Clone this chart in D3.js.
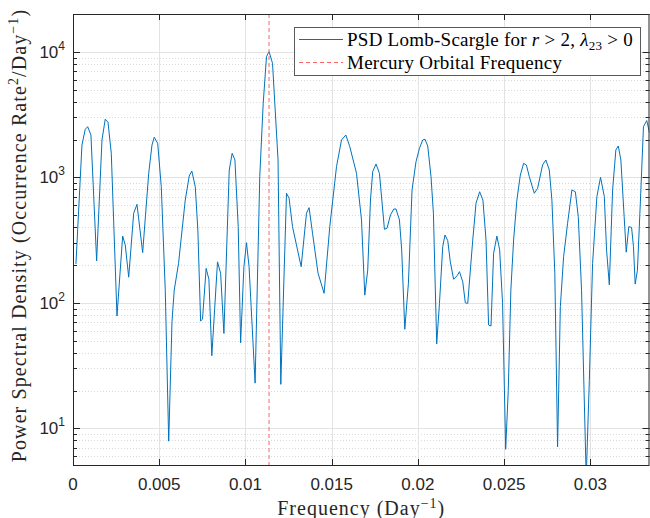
<!DOCTYPE html>
<html><head><meta charset="utf-8">
<script src="https://cdn.jsdelivr.net/npm/d3@7"></script>
<style>body{margin:0;background:#fff}svg{display:block}</style>
</head><body><svg id="c" width="650" height="518"></svg>
<script>
const freq = [0.00017,0.00052,0.00071,0.00085,0.00104,0.00137,0.00168,0.00187,0.00203,0.00222,
0.00255,0.00288,0.00303,0.00323,0.00352,0.00371,0.00404,0.00439,0.00458,0.00471,
0.00491,0.00512,0.00535,0.00555,0.00574,0.00587,0.00612,0.00651,0.00674,0.00689,
0.00709,0.00724,0.00740,0.00751,0.00772,0.00788,0.00805,0.00838,0.00856,0.00875,
0.00906,0.00923,0.00939,0.00958,0.00972,0.00991,0.01006,0.01021,0.01056,0.01083,
0.01103,0.01122,0.01137,0.01157,0.01189,0.01205,0.01238,0.01253,0.01273,0.01323,
0.01354,0.01369,0.01389,0.01421,0.01456,0.01489,0.01528,0.01557,0.01582,0.01605,
0.01644,0.01673,0.01692,0.01709,0.01725,0.01738,0.01757,0.01777,0.01806,0.01821,
0.01841,0.01860,0.01873,0.01893,0.01906,0.01924,0.01945,0.01966,0.01989,0.02009,
0.02028,0.02041,0.02057,0.02076,0.02090,0.02109,0.02125,0.02144,0.02157,0.02173,
0.02188,0.02207,0.02227,0.02241,0.02260,0.02275,0.02289,0.02318,0.02337,0.02358,
0.02377,0.02395,0.02410,0.02424,0.02439,0.02458,0.02474,0.02491,0.02509,0.02524,
0.02539,0.02555,0.02574,0.02594,0.02613,0.02629,0.02646,0.02675,0.02694,0.02723,
0.02742,0.02762,0.02777,0.02794,0.02810,0.02826,0.02845,0.02868,0.02893,0.02913,
0.02930,0.02949,0.02976,0.02994,0.03013,0.03038,0.03059,0.03081,0.03094,0.03110,
0.03129,0.03148,0.03162,0.03177,0.03196,0.03208,0.03223,0.03239,0.03250,0.03260,
0.03273,0.03293,0.03308,0.03327,0.03343];
const psd = [204,1808,2412,2530,2173,216,1982,2904,2742,1553,
78.5,340,289,160,517,609,251,1076,1808,2084,
1866,841,126,7.9,71,126,206,659,1024,1122,
841,380,71.6,74,188,154,37.9,212,172,57,
1143,1553,1374,404,48,194,301,194,22.9,1012,
3890,9160,10030,8090,1374,22.4,746,681,404,194,
517,573,358,172,119,404,1216,1982,2173,1754,
1076,457,115,182,659,1109,1277,1076,385,393,
501,559,559,457,264,61.5,143,793,1331,1702,
1982,2009,1775,1012,517,47,99,280,347,313,
212,154,164,177,147,100,99,316,621,767,
659,316,66.5,65.3,248,340,264,99,6.8,20,
126,316,659,1042,1291,1253,1012,746,817,1253,
1374,1143,659,172,7.1,93,233,430,793,767,
486,126,4.0,24,206,702,1000,702,264,139,
793,1652,1775,1374,486,253,404,399,280,141,
182,793,2530,2830,2270];
const xTicks = [0,0.005,0.01,0.015,0.02,0.025,0.03];
const xTickLabels = ["0","0.005","0.01","0.015","0.02","0.025","0.03"];
const yTickExponents = [1,2,3,4];
const mercuryFrequency = 0.011368;
const seriesNames = ["PSD Lomb-Scargle", "Mercury Orbital Frequency"];

const svg = d3.select("#c");
const L=73, T=14, R=649.5, B=465;
const x = d3.scaleLinear().domain([0,0.03343]).range([L,R]);
const y = d3.scaleLog().domain([5.1,20000]).range([B,T]);
const axisCol = "#262626";
const sans = "'Liberation Sans', Arial, sans-serif";
const serif = "'Liberation Serif', 'Times New Roman', serif";

const minorVals = [];
for (let e=0;e<=4;e++) for (let k=2;k<=9;k++){const v=k*Math.pow(10,e); if(v>=5.1&&v<=20000) minorVals.push(v);}
const majorVals = yTickExponents.map(e=>Math.pow(10,e));

const g = svg.append("g");
g.selectAll(".mg").data(minorVals).enter().append("line")
 .attr("x1",L).attr("x2",R).attr("y1",d=>Math.round(y(d))+0.5).attr("y2",d=>Math.round(y(d))+0.5)
 .attr("stroke","#d9d9d9").attr("stroke-width",1).attr("stroke-dasharray","1,2");
g.selectAll(".Mg").data(majorVals).enter().append("line")
 .attr("x1",L).attr("x2",R).attr("y1",d=>Math.round(y(d))+0.5).attr("y2",d=>Math.round(y(d))+0.5)
 .attr("stroke","#e3e3e3").attr("stroke-width",1);
g.selectAll(".xg").data(xTicks.slice(1)).enter().append("line")
 .attr("x1",d=>Math.round(x(d))+0.5).attr("x2",d=>Math.round(x(d))+0.5).attr("y1",T).attr("y2",B)
 .attr("stroke","#e3e3e3").attr("stroke-width",1);

svg.append("clipPath").attr("id","clip").append("rect").attr("x",L).attr("y",T).attr("width",R-L).attr("height",B-T);

const data = freq.map((f,i)=>[f,psd[i]]);
const line = d3.line().x(d=>x(d[0])).y(d=>y(d[1]));
svg.append("path").datum(data).attr("clip-path","url(#clip)")
 .attr("d",line).attr("fill","none").attr("stroke","#0072BD").attr("stroke-width",1).attr("stroke-linejoin","round");

svg.append("line").attr("x1",x(mercuryFrequency)).attr("x2",x(mercuryFrequency)).attr("y1",T).attr("y2",B)
 .attr("stroke","#ff6464").attr("stroke-width",1).attr("stroke-dasharray","4,3");

const ax = svg.append("g");
ax.append("rect").attr("x",L+0.5).attr("y",T+0.5).attr("width",R-L-1).attr("height",B-T)
 .attr("fill","none").attr("stroke",axisCol).attr("stroke-width",1);

xTicks.forEach(t=>{
  const xx = Math.round(x(t))+0.5;
  ax.append("line").attr("x1",xx).attr("x2",xx).attr("y1",B).attr("y2",B-6).attr("stroke",axisCol);
  ax.append("line").attr("x1",xx).attr("x2",xx).attr("y1",T).attr("y2",T+6).attr("stroke",axisCol);
});
majorVals.forEach(v=>{
  const yy=Math.round(y(v))+0.5;
  ax.append("line").attr("x1",L).attr("x2",L+7).attr("y1",yy).attr("y2",yy).attr("stroke",axisCol);
  ax.append("line").attr("x1",R).attr("x2",R-7).attr("y1",yy).attr("y2",yy).attr("stroke",axisCol);
});
minorVals.forEach(v=>{
  const yy=Math.round(y(v))+0.5;
  ax.append("line").attr("x1",L).attr("x2",L+4).attr("y1",yy).attr("y2",yy).attr("stroke",axisCol);
  ax.append("line").attr("x1",R).attr("x2",R-4).attr("y1",yy).attr("y2",yy).attr("stroke",axisCol);
});

ax.selectAll(".xl").data(xTicks).enter().append("text")
 .attr("x",d=>x(d)).attr("y",490).attr("text-anchor","middle")
 .attr("font-family",sans).attr("font-size",17).attr("fill",axisCol)
 .text((d,i)=>xTickLabels[i]);
yTickExponents.forEach(e=>{
  const t = ax.append("text").attr("x",65).attr("y",y(Math.pow(10,e))+6).attr("text-anchor","end")
   .attr("font-family",sans).attr("font-size",17).attr("fill",axisCol);
  t.append("tspan").text("10");
  t.append("tspan").attr("font-size",12).attr("dy",-8).text(String(e));
});

const xl = svg.append("text").attr("x",(L+R)/2).attr("y",515).attr("text-anchor","middle")
 .attr("font-family",serif).attr("font-size",20).attr("letter-spacing",1).attr("fill",axisCol);
xl.append("tspan").text("Frequency (Day");
xl.append("tspan").attr("font-size",14).attr("dy",-7).text("\u22121");
xl.append("tspan").attr("dy",7).text(")");

const yl = svg.append("text").attr("transform",`translate(26,${(T+B)/2-4}) rotate(-90)`).attr("text-anchor","middle")
 .attr("font-family",serif).attr("font-size",20).attr("letter-spacing",1.1).attr("fill",axisCol);
yl.append("tspan").text("Power Spectral Density (Occurrence Rate");
yl.append("tspan").attr("font-size",14).attr("dy",-8).text("2");
yl.append("tspan").attr("dy",8).text("/Day");
yl.append("tspan").attr("font-size",14).attr("dy",-8).text("\u22121");
yl.append("tspan").attr("dy",8).text(")");

const lg = svg.append("g");
lg.append("rect").attr("x",294.5).attr("y",27.5).attr("width",346).attr("height",48)
 .attr("fill","#fff").attr("stroke","#5a5a5a").attr("stroke-width",1);
lg.append("line").attr("x1",299).attr("x2",343).attr("y1",39.5).attr("y2",39.5).attr("stroke","#0072BD").attr("stroke-width",1);
lg.append("line").attr("x1",299).attr("x2",343).attr("y1",62.5).attr("y2",62.5).attr("stroke","#ff6464").attr("stroke-width",1).attr("stroke-dasharray","4,3");
const t1 = lg.append("text").attr("x",347).attr("y",45.5).attr("font-family",serif).attr("font-size",19).attr("letter-spacing",0.25).attr("fill","#000");
t1.append("tspan").text(seriesNames[0]+" for ");
t1.append("tspan").attr("font-style","italic").text("r");
t1.append("tspan").text(" > 2, ");
t1.append("tspan").attr("font-style","italic").text("\u03bb");
t1.append("tspan").attr("font-size",13).attr("dy",4).text("23");
t1.append("tspan").attr("dy",-4).text(" > 0");
lg.append("text").attr("x",347).attr("y",68.5).attr("font-family",serif).attr("font-size",19).attr("letter-spacing",0.25).attr("fill","#000").text(seriesNames[1]);
</script></body></html>
